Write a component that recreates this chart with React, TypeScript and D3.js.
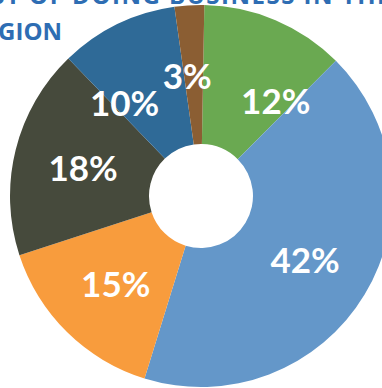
import React from "react";
import * as d3 from "d3";

const categories = ["Green", "Light blue", "Orange", "Dark olive", "Dark blue", "Brown"];
const values = [12.2, 42.3, 15.2, 17.8, 10.0, 2.5];
const colors = ["#6aa951", "#6497c9", "#f89c3d", "#464a3c", "#2f6a97", "#8b5e33"];
const titleLines = ["COST OF DOING BUSINESS IN THE", "REGION"];

// label angle nudges (degrees) to mimic the original label placement
const labelNudge = [15, 0, 0, 0, -13, -3];

const W = 382;
const H = 388;
const cx = 201;
const cy = 196;
const outerR = 191;
const innerR = 52;

export default function App() {
  const pie = d3
    .pie<number>()
    .sort(null)
    .value((d) => d)
    .startAngle((1 * Math.PI) / 180)
    .endAngle(Math.PI * 2 + (1 * Math.PI) / 180);
  const arcs = pie(values);
  const arc = d3.arc<d3.PieArcDatum<number>>().innerRadius(innerR).outerRadius(outerR);
  const labelR = (innerR + outerR) / 2;

  return (
    <svg
      width={W}
      height={H}
      style={{ position: "absolute", left: 0, top: 0, background: "#fff" }}
    >
      <g transform={`translate(${cx},${cy})`}>
        {arcs.map((a, i) => (
          <path key={categories[i]} d={arc(a) || ""} fill={colors[i]} />
        ))}
        {arcs.map((a, i) => {
          const mid = (a.startAngle + a.endAngle) / 2 + (labelNudge[i] * Math.PI) / 180;
          const x = Math.sin(mid) * labelR;
          const y = -Math.cos(mid) * labelR;
          return (
            <text
              key={"l" + i}
              x={x}
              y={y}
              textAnchor="middle"
              dominantBaseline="central"
              fill="#fff"
              fontFamily="Lato, 'Open Sans', sans-serif"
              fontWeight={700}
              fontSize={35}
            >
              {Math.round(values[i]) + "%"}
            </text>
          );
        })}
      </g>
      <text
        x={392}
        y={4}
        textAnchor="end"
        fill="#2e6db3"
        fontFamily="'Open Sans', sans-serif"
        fontWeight={700}
        fontSize={24}
        letterSpacing={1.5}
      >
        {titleLines[0]}
      </text>
      <text
        x={62}
        y={40}
        textAnchor="end"
        fill="#2e6db3"
        fontFamily="'Open Sans', sans-serif"
        fontWeight={700}
        fontSize={24}
      >
        {titleLines[1]}
      </text>
    </svg>
  );
}
